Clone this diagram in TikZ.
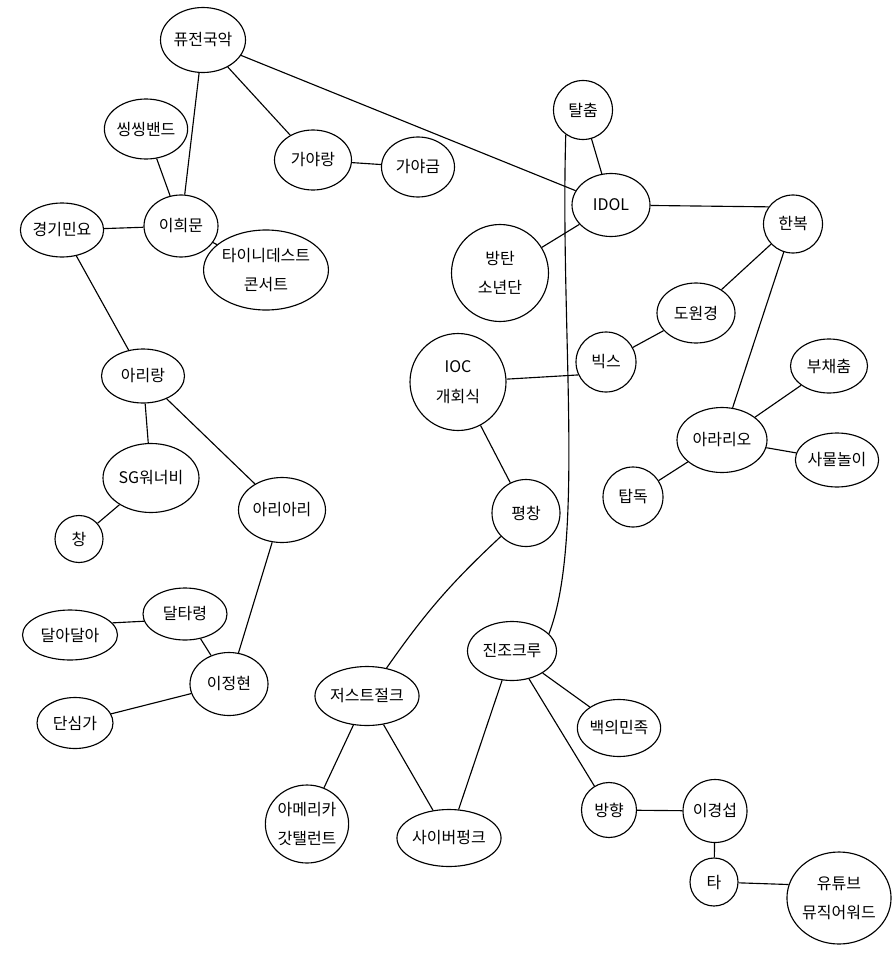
\documentclass[tikz,border=0pt]{standalone}
\usepackage{fontspec}
\newfontfamily\kr{Noto Sans CJK KR}
\usetikzlibrary{shapes.geometric}
\tikzset{
  bubble/.style={draw, ellipse, line width=0.85pt, inner sep=0pt, align=center,
    font=\kr\fontsize{12}{22}\selectfont},
  bub/.style 2 args={bubble, minimum width=#1*0.75pt, minimum height=#2*0.75pt},
  link/.style={line width=0.85pt}
}
\begin{document}
\begin{tikzpicture}[x=0.75pt, y=-0.75pt]
  \useasboundingbox (0,0) rectangle (892,960);
  \node[bub={85}{65}] (fusion) at (203,40) {퓨전국악};
  \node[bub={82}{60}] (ssing) at (146,129) {씽씽밴드};
  \node[bub={77}{60}] (gayarang) at (313,160) {가야랑};
  \node[bub={73}{60}] (gayageum) at (418,167) {가야금};
  \node[bub={80}{54}] (minyo) at (62,230) {경기민요};
  \node[bub={74}{62}] (heemoon) at (181,226) {이희문};
  \node[bub={112}{80}] (tinydesk) at (266,270) {타이니데스트\\콘서트};
  \node[bub={59}{59}] (talchum) at (583,110) {탈춤};
  \node[bub={78}{63}] (idol) at (611,205) {IDOL};
  \node[bub={59}{58}] (hanbok) at (793,224) {한복};
  \node[bub={97}{97}] (bts) at (500,273) {방탄\\소년단};
  \node[bub={78}{60}] (dowon) at (696,313) {도원경};
  \node[bub={60}{60}] (vixx) at (606,362) {빅스};
  \node[bub={96}{97}] (ioc) at (458,382) {IOC\\개회식};
  \node[bub={77}{54}] (buchae) at (829,366) {부채춤};
  \node[bub={90}{65}] (arario) at (722,440) {아라리오};
  \node[bub={76}{54}] (samul) at (837,460) {사물놀이};
  \node[bub={60}{60}] (topdog) at (633,497) {탑독};
  \node[bub={68}{67}] (pyeong) at (526,513) {평창};
  \node[bub={83}{54}] (arirang) at (143,376) {아리랑};
  \node[bub={96}{69}] (sg) at (151,478) {SG워너비};
  \node[bub={48}{47}] (chang) at (79,539) {창};
  \node[bub={87}{65}] (ariari) at (282,510) {아리아리};
  \node[bub={84}{52}] (dal) at (185,614) {달타령};
  \node[bub={95}{50}] (dala) at (70,635) {달아달아};
  \node[bub={78}{63}] (leejh) at (229,684) {이정현};
  \node[bub={76}{51}] (dansim) at (75,723) {단심가};
  \node[bub={89}{59}] (jinjo) at (512,651) {진조크루};
  \node[bub={102}{59}] (just) at (367,696) {저스트절크};
  \node[bub={78}{57}] (baek) at (619,728) {백의민족};
  \node[bub={79}{78}] (agt) at (307,824) {아메리카\\갓탤런트};
  \node[bub={98}{57}] (cyber) at (449,838) {사이버펑크};
  \node[bub={55}{55}] (banghyang) at (609,810) {방향};
  \node[bub={64}{63}] (lks) at (715,811) {이경섭};
  \node[bub={48}{48}] (ta) at (714,882) {타};
  \node[bub={93}{92}] (yt) at (839,898) {유튜브\\뮤직어워드};

  \draw[link] (fusion) -- (heemoon);
  \draw[link] (fusion) -- (gayarang);
  \draw[link] (fusion) -- (idol);
  \draw[link] (gayarang) -- (gayageum);
  \draw[link] (ssing) -- (heemoon);
  \draw[link] (minyo) -- (heemoon);
  \draw[link] (heemoon) -- (tinydesk);
  \draw[link] (minyo) -- (arirang);
  \draw[link] (arirang) -- (sg);
  \draw[link] (arirang) -- (ariari);
  \draw[link] (sg) -- (chang);
  \draw[link] (ariari) -- (leejh);
  \draw[link] (dala.16) -- (dal.190);
  \draw[link] (dal) -- (leejh);
  \draw[link] (leejh) -- (dansim);
  \draw[link] (talchum) -- (idol);
  \draw[link] (talchum.235) .. controls (560,330) and (585,540) .. (jinjo.25);
  \draw[link] (idol) -- (hanbok.145);
  \draw[link] (idol) -- (bts);
  \draw[link] (hanbok) -- (dowon);
  \draw[link] (hanbok) -- (arario);
  \draw[link] (dowon) -- (vixx);
  \draw[link] (ioc) -- (vixx.205);
  \draw[link] (ioc) -- (pyeong);
  \draw[link] (arario) -- (buchae);
  \draw[link] (arario) -- (samul);
  \draw[link] (arario) -- (topdog);
  \draw[link] (pyeong) to[bend right=6] (just);
  \draw[link] (jinjo) -- (cyber);
  \draw[link] (jinjo) -- (baek);
  \draw[link] (jinjo) -- (banghyang);
  \draw[link] (just) -- (agt);
  \draw[link] (just) -- (cyber);
  \draw[link] (banghyang) -- (lks);
  \draw[link] (lks) -- (ta);
  \draw[link] (ta) -- (yt.165);
\end{tikzpicture}
\end{document}
